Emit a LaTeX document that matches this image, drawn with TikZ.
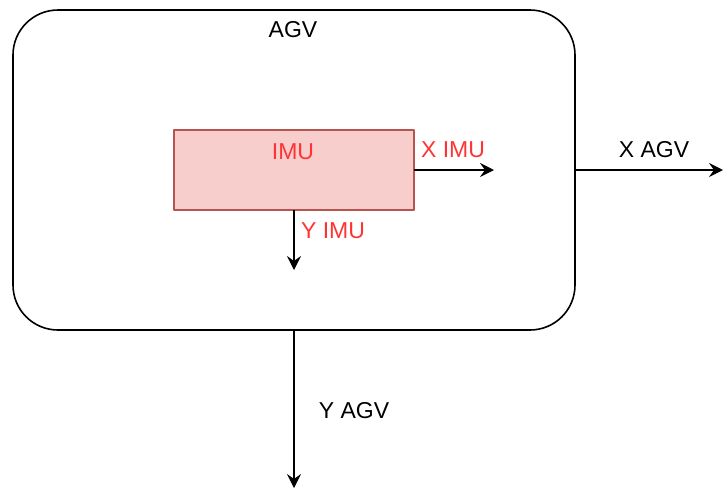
\documentclass[tikz,border=0pt]{standalone}
\usepackage{fontspec}
\setmainfont{Liberation Sans}
\usetikzlibrary{arrows.meta,positioning}
\definecolor{imufill}{HTML}{F8CECC}
\definecolor{imuline}{HTML}{B85450}
\definecolor{imutext}{HTML}{FF3333}
\tikzset{
  frame/.style={draw,line width=0.8pt,rounded corners=22.5pt,inner sep=0pt,outer sep=0pt},
  sensor/.style={draw=imuline,fill=imufill,line width=0.6pt,inner sep=0pt,outer sep=0pt},
  axis/.style={->,line width=0.8pt},
  lbl/.style={inner sep=0pt,font=\fontsize{11.5}{13}\selectfont},
}

\begin{document}
\begin{tikzpicture}[x=0.5pt,y=-0.5pt,>={Stealth[length=7pt,width=7pt,inset=2.5pt]},line join=round]
\useasboundingbox (0,0) rectangle (723,488);
% --- vehicle body and sensor
\node[frame,minimum width=281pt,minimum height=160pt] (agv) at (294,170) {};
\node[sensor,minimum width=120pt,minimum height=40pt] (imu) at (294,170) {};
\node[lbl] (agvname) at (293,30) {AGV};
\node[lbl,imutext] (imuname) at (293,152) {IMU};
% --- end points
\coordinate (ximu) at (494,170);
\coordinate (yimu) at (294,270);
\coordinate (xagv) at (723,170);
\coordinate (yagv) at (294,488);
% --- IMU axes
\draw[axis] (imu.east) -- (ximu);
\draw[axis] (imu.south) -- (yimu);
\node[lbl,imutext] (ximulbl) at (453,150) {X IMU};
\node[lbl,imutext] (yimulbl) at (333,231) {Y IMU};
% --- AGV axes
\draw[axis] (agv.east) -- (xagv);
\draw[axis] (agv.south) -- (yagv);
\node[lbl] (xagvlbl) at (654,150) {X AGV};
\node[lbl] (yagvlbl) at (354,411) {Y AGV};
\end{tikzpicture}
\end{document}
